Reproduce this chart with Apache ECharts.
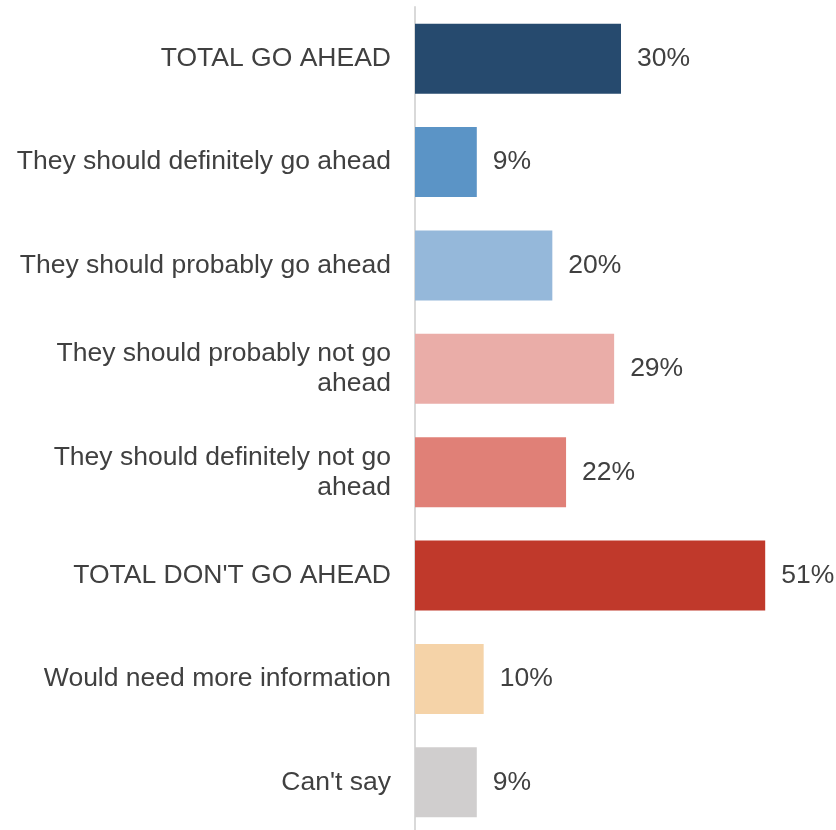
<!DOCTYPE html>
<html>
<head>
<meta charset="utf-8">
<script src="https://cdn.jsdelivr.net/npm/echarts@6/dist/echarts.min.js"></script>
<style>
  html, body { margin: 0; padding: 0; background: #ffffff; }
  #chart { width: 836px; height: 830px; }
</style>
</head>
<body>
<div id="chart"></div>
<script>
// Survey responses: should they go ahead?
const categories = [
  'TOTAL GO AHEAD',
  'They should definitely go ahead',
  'They should probably go ahead',
  'They should probably not go\nahead',
  'They should definitely not go\nahead',
  "TOTAL DON'T GO AHEAD",
  'Would need more information',
  "Can't say"
];
const values = [30, 9, 20, 29, 22, 51, 10, 9];
const barColors = ['#264A6E', '#5B94C6', '#95B8DA', '#EAADA8', '#E08077', '#C0392B', '#F5D3A8', '#D0CECE'];

const chart = echarts.init(document.getElementById('chart'), null, { renderer: 'canvas' });
const textColor = '#404040';
const fontFamily = '"Liberation Sans", Arial, sans-serif';

chart.setOption({
  backgroundColor: '#ffffff',
  animation: false,
  grid: {
    left: 415, top: 7, width: 412, height: 827,
    containLabel: false,
    outerBoundsMode: 'none'
  },
  xAxis: {
    type: 'value',
    min: 0,
    max: 60,
    show: false
  },
  yAxis: {
    type: 'category',
    inverse: true,
    data: categories,
    axisLine: { show: true, lineStyle: { color: '#D9D9D9', width: 2 } },
    axisTick: { show: false },
    axisLabel: {
      color: textColor,
      fontSize: 26.5,
      fontFamily: fontFamily,
      lineHeight: 30,
      align: 'right',
      margin: 24
    }
  },
  series: [{
    type: 'bar',
    barWidth: 70,
    data: values.map((v, i) => ({ value: v, itemStyle: { color: barColors[i] } })),
    label: {
      show: true,
      position: 'right',
      distance: 16,
      color: textColor,
      fontSize: 26.5,
      fontFamily: fontFamily,
      formatter: p => p.value + '%'
    }
  }]
});
</script>
</body>
</html>
